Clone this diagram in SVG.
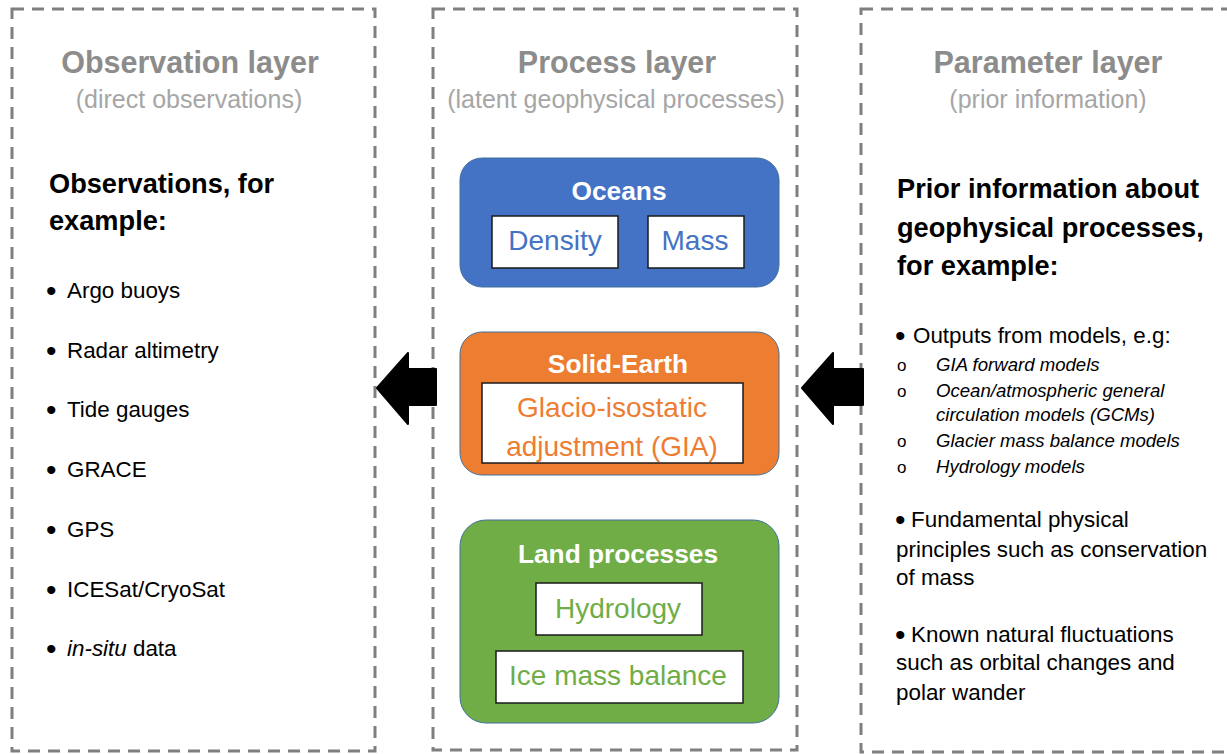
<svg xmlns="http://www.w3.org/2000/svg" width="1227" height="754" viewBox="0 0 1227 754">
<style>
text{font-family:"Liberation Sans",Arial,sans-serif}
.layer{fill:none;stroke:#7f7f7f;stroke-width:3;stroke-dasharray:12 8}
.title{font-weight:bold;font-size:30.5px;fill:#8c8c8c;text-anchor:middle}
.sub{font-size:25px;fill:#a6a6a6;text-anchor:middle}
.head{font-weight:bold;font-size:27.2px;fill:#000}
.body{font-size:22.4px;fill:#000}
.bul{font-size:30px;fill:#000}
.small{font-size:18.6px;font-style:italic;fill:#000}
.circ{font-size:17px;fill:#000}
.ntitle{font-weight:bold;font-size:26.3px;fill:#fff;text-anchor:middle}
.nlabel{font-size:28px;text-anchor:middle}
.inner{fill:#fff;stroke:#1a1a1a;stroke-width:1.5}
.outer{stroke:#41719c;stroke-width:1}
.arrow{fill:#000;stroke:#000;stroke-width:2;stroke-linejoin:round}
</style>
<rect x="0" y="0" width="1227" height="754" fill="#fff"/>

<g id="observation-layer">
<rect class="layer" x="12" y="9" width="363" height="742"/>
<text class="title" x="190" y="73">Observation layer</text>
<text class="sub" x="189" y="108">(direct observations)</text>
<text class="head" x="49" y="193">Observations, for</text>
<text class="head" x="49" y="230">example:</text>
<g class="bul">
<text x="46" y="301">•</text>
<text x="46" y="361">•</text>
<text x="46" y="420">•</text>
<text x="46" y="480">•</text>
<text x="46" y="540">•</text>
<text x="46" y="600">•</text>
<text x="46" y="659">•</text>
</g>
<g class="body">
<text x="67" y="298">Argo buoys</text>
<text x="67" y="358">Radar altimetry</text>
<text x="67" y="417">Tide gauges</text>
<text x="67" y="477">GRACE</text>
<text x="67" y="537">GPS</text>
<text x="67" y="597">ICESat/CryoSat</text>
<text x="67" y="656"><tspan font-style="italic">in-situ</tspan> data</text>
</g>
</g>

<g id="process-layer">
<rect class="layer" x="433" y="9" width="364" height="741"/>
<text class="title" x="617" y="73">Process layer</text>
<text class="sub" x="616" y="108">(latent geophysical processes)</text>
</g>

<g id="oceans">
<rect class="outer" x="460" y="158" width="319" height="129" rx="22" fill="#4472c4"/>
<text class="ntitle" x="619" y="200">Oceans</text>
<rect class="inner" x="492" y="216" width="126" height="52"/>
<text class="nlabel" x="555" y="250" fill="#4472c4">Density</text>
<rect class="inner" x="648" y="216" width="96" height="52"/>
<text class="nlabel" x="695" y="250" fill="#4472c4">Mass</text>
</g>

<g id="solid-earth">
<rect class="outer" x="460" y="332" width="319" height="143" rx="22" fill="#ed7d31"/>
<text class="ntitle" x="618" y="373">Solid-Earth</text>
<rect class="inner" x="482" y="383" width="261" height="80"/>
<text class="nlabel" x="612" y="417" fill="#ed7d31">Glacio-isostatic</text>
<text class="nlabel" x="612" y="456" fill="#ed7d31">adjustment (GIA)</text>
</g>

<g id="land-processes">
<rect class="outer" x="460" y="520" width="319" height="203" rx="26" fill="#70ad47"/>
<text class="ntitle" x="618" y="563">Land processes</text>
<rect class="inner" x="536" y="583" width="166" height="52"/>
<text class="nlabel" x="618" y="618" fill="#70ad47">Hydrology</text>
<rect class="inner" x="496" y="651" width="247" height="52"/>
<text class="nlabel" x="618" y="685" fill="#70ad47">Ice mass balance</text>
</g>

<g id="parameter-layer">
<rect class="layer" x="861" y="9" width="380" height="743"/>
<text class="title" x="1048" y="73">Parameter layer</text>
<text class="sub" x="1048" y="108">(prior information)</text>
<text class="head" x="897" y="198">Prior information about</text>
<text class="head" x="897" y="237">geophysical processes,</text>
<text class="head" x="897" y="275">for example:</text>
<g class="bul">
<text x="895" y="346">•</text>
<text x="895" y="530">•</text>
<text x="895" y="645">•</text>
</g>
<g class="body">
<text x="913" y="343">Outputs from models, e.g:</text>
</g>
<g class="circ">
<text x="897" y="371">o</text>
<text x="897" y="397">o</text>
<text x="897" y="447">o</text>
<text x="897" y="473">o</text>
</g>
<g class="small">
<text x="936" y="371">GIA forward  models</text>
<text x="936" y="397">Ocean/atmospheric general</text>
<text x="936" y="421">circulation models (GCMs)</text>
<text x="936" y="447">Glacier mass balance models</text>
<text x="936" y="473">Hydrology  models</text>
</g>
<g class="body">
<text x="911" y="527">Fundamental physical</text>
<text x="896" y="557">principles such as conservation</text>
<text x="896" y="585">of mass</text>
<text x="911" y="642">Known natural fluctuations</text>
<text x="896" y="670">such as orbital changes and</text>
<text x="896" y="700">polar wander</text>
</g>
</g>

<g id="connectors">
<polygon class="arrow" points="377,388 408,353 408,369 436,369 436,405 408,405 408,424"/>
<polygon class="arrow" points="802,388 833,353 833,369 863,369 863,405 833,405 833,424"/>
</g>
</svg>
